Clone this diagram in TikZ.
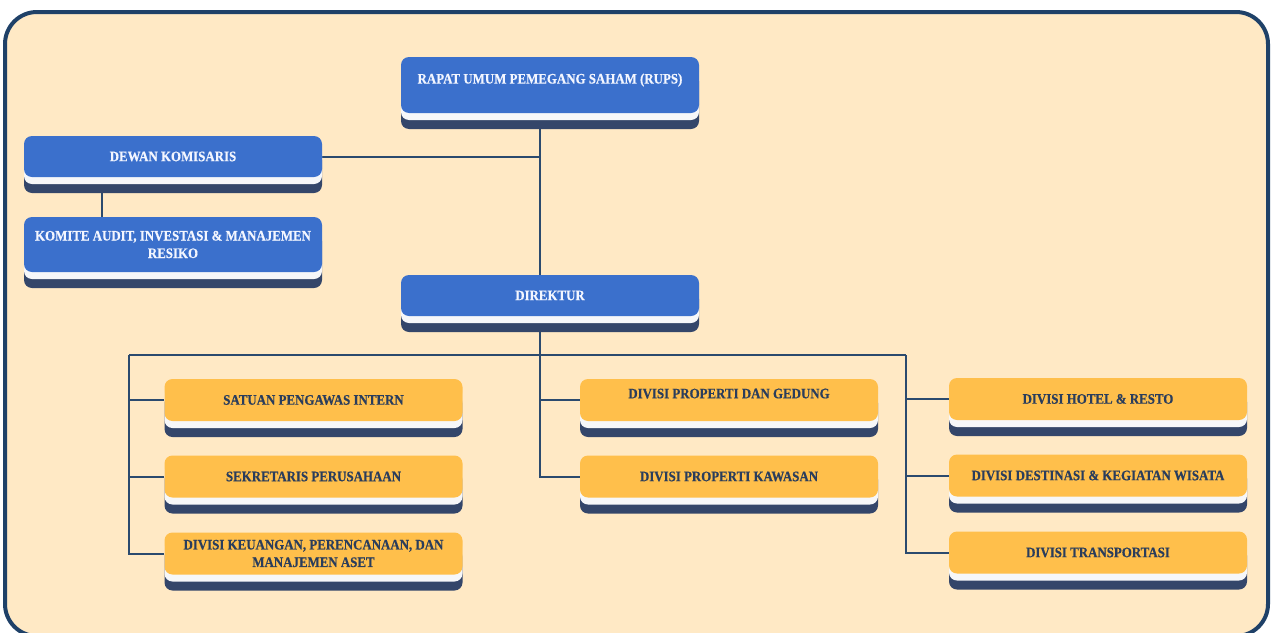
\documentclass[tikz,border=0pt]{standalone}
\usepackage{fontspec}
\setmainfont{Liberation Serif}[FakeStretch=0.89, BoldFeatures={FakeBold=0.4}]
\usetikzlibrary{shadows}

\definecolor{paper}{HTML}{FFE9C5}
\definecolor{framec}{HTML}{1F4168}
\definecolor{wirec}{HTML}{2B4A6E}
\definecolor{headblue}{HTML}{3B70CC}
\definecolor{unityellow}{HTML}{FFBF4B}
\definecolor{basenavy}{HTML}{34466A}
\definecolor{stripw}{HTML}{F6F7F9}
\definecolor{headtext}{HTML}{F3F6FF}
\definecolor{unittext}{HTML}{2A3D5C}

\pgfdeclarelayer{back}
\pgfdeclarelayer{wires}
\pgfsetlayers{back,wires,main}

\tikzset{
  orgbox/.style={rounded corners=8pt, minimum width=298pt, inner sep=2pt,
    align=center, font=\fontsize{14.5}{17.5}\selectfont\bfseries,
    general shadow={fill=basenavy, shadow yshift=-16pt},
    general shadow={fill=stripw, shadow yshift=-7pt}},
  headbox/.style={orgbox, fill=headblue, text=headtext},
  unitbox/.style={orgbox, fill=unityellow, text=unittext},
  toptext/.style={text depth=13pt},
  wire/.style={draw=wirec, line width=2pt}
}

\begin{document}
\begin{tikzpicture}[x=1pt, y=-1pt]
\useasboundingbox (0,0) rectangle (1272,632);

% board
\begin{pgfonlayer}{back}
  \fill[white] (0,0) rectangle (1272,632);
  \draw[framec, fill=paper, line width=4pt, rounded corners=32pt] (5,12) rectangle (1268,636);
\end{pgfonlayer}

% top of the chart
  \node[headbox, toptext, minimum height=56pt] (rups) at (550,85) {RAPAT UMUM PEMEGANG SAHAM (RUPS)};
  \node[headbox, minimum height=41pt] (dekom) at (173,156.5) {DEWAN KOMISARIS};
  \node[headbox, minimum height=55pt] (komite) at (173,244.5) {KOMITE AUDIT, INVESTASI \& MANAJEMEN\\RESIKO};
  \node[headbox, minimum height=41pt] (dir) at (550,295.5) {DIREKTUR};

% units
  \node[unitbox, minimum height=42pt] (spi) at (313.5,400) {SATUAN PENGAWAS INTERN};
  \node[unitbox, minimum height=42pt] (sekper) at (313.5,476.5) {SEKRETARIS PERUSAHAAN};
  \node[unitbox, minimum height=42pt] (keu) at (313.5,553.5) {DIVISI KEUANGAN, PERENCANAAN, DAN\\MANAJEMEN ASET};
  \node[unitbox, toptext, minimum height=42pt] (gedung) at (729,400) {DIVISI PROPERTI DAN GEDUNG};
  \node[unitbox, minimum height=42pt] (kawasan) at (729,476.5) {DIVISI PROPERTI KAWASAN};
  \node[unitbox, minimum height=42pt] (hotel) at (1098,399) {DIVISI HOTEL \& RESTO};
  \node[unitbox, minimum height=42pt] (wisata) at (1098,475.5) {DIVISI DESTINASI \& KEGIATAN WISATA};
  \node[unitbox, minimum height=42pt] (trans) at (1098,552.5) {DIVISI TRANSPORTASI};

% lines
\begin{pgfonlayer}{wires}
  \coordinate (spine) at ([xshift=-10pt]rups.south);
  \coordinate (busL) at (129,355);
  \coordinate (busR) at (906,355);
  \draw[wire] (spine) -- (spine |- dir.north);
  \draw[wire] (dekom.east) -- (dekom.east -| spine);
  \draw[wire] ([xshift=-71pt]dekom.south) -- ([xshift=-71pt]komite.north);
  \draw[wire] (spine |- dir.south) -- (spine |- busL);
  \draw[wire] (busL) -- (busR);
  \draw[wire] (busL) |- (keu.west);
  \draw[wire] (busL |- spi.west) -- (spi.west);
  \draw[wire] (busL |- sekper.west) -- (sekper.west);
  \draw[wire] (spine |- busL) |- (kawasan.west);
  \draw[wire] (spine |- gedung.west) -- (gedung.west);
  \draw[wire] (busR) |- (trans.west);
  \draw[wire] (busR |- hotel.west) -- (hotel.west);
  \draw[wire] (busR |- wisata.west) -- (wisata.west);
\end{pgfonlayer}
\end{tikzpicture}
\end{document}
